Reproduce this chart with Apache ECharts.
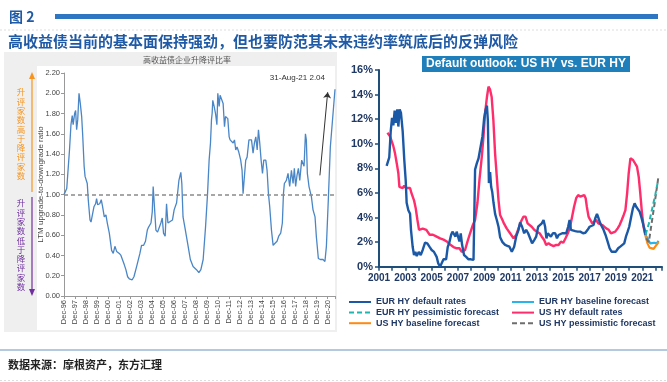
<!DOCTYPE html>
<html><head><meta charset="utf-8">
<script src="https://cdn.jsdelivr.net/npm/echarts@6/dist/echarts.min.js"></script>
<style>html,body{margin:0;padding:0;background:#fff}#c{width:667px;height:382px}</style>
</head><body><div id="c"></div>
<script>
// ---------- Left chart: LTM upgrade-to-downgrade ratio (x = months since Dec-96) ----------
const ltmMonths = [0,3,6,7.6,9,10,11.6,12.7,13.8,15,16.4,17.8,19.3,20.4,22,23,24.3,25.4,26.5,28.4,29.5,32.7,34.5,35.6,36.8,39,40.7,42.2,44,45.8,47.3,49.5,52,53.8,55.6,57.5,60.4,62.2,64,65.8,67.6,69.5,71.3,73,74.5,76.4,79.3,82.9,84.7,87,89,91,92.4,94,95,96.4,97.4,99.3,100.4,102.2,104,105.8,107.3,108.7,110.5,112,113.5,115.6,118.5,120.3,123,125.5,127.6,128.7,130,132,135.6,138,141,144.7,147.3,149.5,152,154.6,156.8,158.5,160,161.1,161.8,162.5,164,165.5,167,168,169.5,170.5,172.4,173.8,175.3,176.4,178.9,180.4,181.4,183.3,184.7,186.2,187.6,189,190.9,193,194.5,195.6,196.7,198.5,200,202,204.8,206.5,208,209.5,211,212.4,213.8,215.3,216.8,218.2,220.4,221.8,223.3,224.7,226.6,228.4,230.5,232.7,234.5,236.7,238.5,239.7,240.7,242.9,244.7,246.5,248.4,250.2,251.6,253,254.5,256,257.5,259.6,261,262.2,263.7,264.7,265.8,267.6,270.2,272,274.2,275.6,277.8,280,282.9,285,286.6,288.7,290.9,296];
const ltmRatio = [1.00,1.06,1.44,1.69,1.78,1.69,1.80,1.83,1.64,1.74,2.00,1.90,1.77,1.59,1.28,1.18,1.19,1.11,0.95,0.75,0.73,0.88,0.91,0.96,0.90,0.91,0.95,0.88,0.78,0.80,0.72,0.62,0.45,0.42,0.49,0.44,0.42,0.40,0.41,0.31,0.26,0.19,0.17,0.16,0.16,0.19,0.29,0.42,0.50,0.50,0.54,0.65,0.68,0.67,0.72,0.83,1.08,1.08,0.65,0.63,0.63,0.72,0.77,0.62,0.59,0.91,0.72,0.73,0.75,0.85,0.92,1.14,1.22,1.11,0.78,0.68,0.49,0.36,0.29,0.26,0.23,0.26,0.36,0.68,1.01,1.34,1.51,1.74,1.80,1.93,1.87,1.80,1.69,2.00,1.87,1.98,1.97,1.90,1.67,1.77,1.75,1.57,1.54,1.55,1.51,1.54,1.44,1.47,1.42,1.34,1.24,1.01,1.14,1.34,1.37,1.54,1.54,1.41,1.51,1.57,1.44,1.64,1.51,1.34,1.21,1.34,1.34,1.24,1.01,0.88,0.65,0.50,0.52,0.54,0.59,0.62,0.72,1.01,1.11,1.14,1.21,1.08,1.24,1.11,1.26,1.08,1.19,1.26,1.14,1.34,1.34,1.28,1.60,1.54,1.21,1.08,0.98,0.85,0.78,0.59,0.37,0.36,0.36,0.34,0.49,0.95,1.47,2.04];
const ltmTickLabels = ['Dec-96','Dec-97','Dec-98','Dec-99','Dec-00','Dec-01','Dec-02','Dec-03','Dec-04','Dec-05','Dec-06','Dec-07','Dec-08','Dec-09','Dec-10','Dec-11','Dec-12','Dec-13','Dec-14','Dec-15','Dec-16','Dec-17','Dec-18','Dec-19','Dec-20'];
const ltmParity = 1.0;
const ltmArrowFrom = [279.5, 1.19];
const ltmArrowTo = [288, 2.01];

// ---------- Right chart: default rates (%) ----------
const eurYears = [2001.58,2001.78,2001.89,2001.99,2002.09,2002.19,2002.29,2002.39,2002.47,2002.57,2002.67,2002.80,2002.92,2003.03,2003.10,2003.23,2003.36,2003.43,2003.56,2003.66,2003.76,2003.87,2004.02,2004.17,2004.32,2004.50,2004.67,2004.83,2005.00,2005.18,2005.38,2005.50,2005.64,2005.77,2005.90,2006.10,2006.22,2006.35,2006.48,2006.58,2006.70,2006.81,2006.90,2007.04,2007.11,2007.21,2007.31,2007.46,2007.62,2007.80,2007.98,2008.18,2008.25,2008.30,2008.43,2008.56,2008.68,2008.76,2008.86,2008.99,2009.10,2009.20,2009.27,2009.35,2009.44,2009.52,2009.60,2009.70,2009.82,2009.95,2010.08,2010.20,2010.38,2010.58,2010.75,2010.91,2011.09,2011.27,2011.42,2011.60,2011.72,2011.87,2012.03,2012.18,2012.33,2012.48,2012.63,2012.79,2012.94,2013.09,2013.24,2013.37,2013.50,2013.62,2013.72,2013.83,2013.95,2014.06,2014.21,2014.39,2014.52,2014.64,2014.77,2014.92,2015.07,2015.22,2015.37,2015.48,2015.58,2015.73,2015.91,2016.09,2016.29,2016.50,2016.68,2016.85,2017.00,2017.15,2017.30,2017.43,2017.56,2017.68,2017.81,2017.94,2018.06,2018.21,2018.37,2018.52,2018.67,2018.82,2019.00,2019.17,2019.33,2019.48,2019.63,2019.76,2019.89,2020.01,2020.16,2020.29,2020.42,2020.54,2020.67,2020.80,2020.92,2021.05,2021.15,2021.25];
const eurRates = [8.2,8.9,11.0,12.1,11.5,12.7,11.7,12.8,11.4,12.8,12.5,11.0,8.7,7.0,5.2,4.6,4.3,3.0,1.6,0.95,1.2,0.87,1.2,0.95,1.36,1.95,1.9,1.63,1.36,1.2,0.8,0.27,0.0,0.0,0.6,0.6,1.6,2.0,2.6,2.85,2.85,2.45,2.85,2.7,2.05,2.7,1.8,0.95,0.8,0.6,0.6,0.55,0.55,7.9,8.4,8.8,8.8,10.0,10.6,12.1,12.75,13.1,11.9,6.8,7.7,6.5,6.1,5.2,4.3,3.8,3.25,2.4,2.0,1.77,1.7,1.63,1.22,1.63,2.44,3.0,3.6,3.25,2.72,3.0,2.72,2.31,1.9,2.17,2.44,3.25,3.25,3.53,3.8,3.25,2.31,2.72,2.72,2.44,2.72,2.72,2.31,2.58,2.58,2.72,2.85,2.72,3.25,3.8,3.0,2.85,2.9,2.85,2.85,2.72,2.76,3.0,3.25,3.39,3.39,3.94,4.29,3.94,3.53,3.25,3.0,2.58,2.04,1.5,1.22,1.14,1.22,1.5,1.63,1.77,1.9,2.44,2.85,3.25,4.07,4.75,5.16,4.88,4.75,4.48,4.07,3.53,3.12,2.58];
const usYears = [2001.64,2001.74,2001.84,2001.97,2002.09,2002.22,2002.35,2002.47,2002.55,2002.67,2002.80,2002.92,2003.05,2003.17,2003.36,2003.46,2003.56,2003.66,2003.79,2003.92,2004.04,2004.17,2004.32,2004.47,2004.60,2004.72,2004.85,2004.98,2005.10,2005.38,2005.64,2005.90,2006.15,2006.40,2006.66,2006.91,2007.11,2007.29,2007.42,2007.54,2007.72,2007.92,2008.13,2008.30,2008.48,2008.63,2008.81,2008.94,2009.06,2009.20,2009.32,2009.44,2009.56,2009.69,2009.82,2009.95,2010.08,2010.20,2010.38,2010.50,2010.71,2010.96,2011.22,2011.42,2011.60,2011.78,2011.97,2012.13,2012.29,2012.44,2012.60,2012.79,2013.00,2013.20,2013.37,2013.55,2013.70,2013.88,2014.06,2014.26,2014.46,2014.64,2014.82,2015.00,2015.17,2015.35,2015.52,2015.67,2015.82,2015.98,2016.13,2016.29,2016.44,2016.59,2016.70,2016.79,2016.92,2017.05,2017.20,2017.35,2017.50,2017.66,2017.81,2017.96,2018.11,2018.26,2018.45,2018.62,2018.77,2018.95,2019.13,2019.28,2019.44,2019.59,2019.72,2019.85,2019.97,2020.10,2020.20,2020.30,2020.45,2020.60,2020.73,2020.85,2020.98,2021.10,2021.23];
const usRates = [10.9,10.8,10.6,10.2,9.8,9.2,8.4,7.6,6.5,6.5,6.4,6.6,6.4,6.5,6.4,6.0,6.0,5.4,4.75,3.8,3.0,3.0,3.1,3.0,3.0,2.8,2.6,2.7,2.6,2.45,2.3,2.2,2.05,1.8,1.6,1.5,1.5,1.2,1.1,1.36,2.04,2.72,3.4,3.8,5.2,7.05,8.95,10.6,12.5,13.8,14.65,14.4,13.8,11.9,9.2,7.3,5.4,4.2,3.8,3.5,3.1,2.72,2.31,2.58,3.12,3.66,4.07,4.07,3.53,3.39,3.25,3.0,2.85,2.72,2.44,2.17,1.77,1.9,1.77,1.68,1.77,1.77,2.04,1.95,2.31,2.72,3.25,4.07,4.88,5.57,5.83,5.7,5.83,5.83,5.57,4.88,4.07,3.8,3.53,3.66,3.8,3.53,3.66,3.39,3.25,3.12,3.0,2.72,2.76,2.85,3.12,3.39,3.8,4.21,4.61,5.97,7.6,8.82,8.95,8.68,8.54,8.14,7.32,5.97,4.34,3.25,2.58];
const eurBaseYears = [2021.25,2021.45,2021.6,2021.74,2021.91,2022.1,2022.24];
const eurBaseRates = [2.58,2.2,1.9,1.77,1.95,1.9,2.1];
const eurPessYears = [2021.25,2021.5,2021.75,2022.0,2022.2];
const eurPessRates = [2.6,3.5,4.7,5.9,7.0];
const usBaseYears = [2021.23,2021.4,2021.55,2021.7,2021.86,2022.0,2022.24];
const usBaseRates = [2.58,1.9,1.55,1.45,1.45,1.6,2.0];
const usPessYears = [2021.3,2021.5,2021.75,2022.0,2022.24];
const usPessRates = [2.3,2.0,3.8,5.6,7.4];
const yearTickLabels = ['2001','2003','2005','2007','2009','2011','2013','2015','2017','2019','2021'];
const pctTicks = [0,2,4,6,8,10,12,14,16];

const BASE = 2001;
const pair = (xs, ys) => xs.map((x, i) => [x - BASE, ys[i]]);
const CJK = '"Noto Sans CJK SC", sans-serif';
const NARROW = '"Liberation Sans Narrow","Liberation Sans",sans-serif';
const ARIAL = '"Liberation Sans", Arial, sans-serif';
const navy = '#1f3864';
const axisBlue = '#1f4e79';

const chart = echarts.init(document.getElementById('c'), null, {renderer: 'canvas'});

function vtext(s) { return s.split('').join('\n'); }

const legendCommon = {orient: 'vertical', itemWidth: 22, itemHeight: 9, itemGap: 1.6, padding: 0,
  itemStyle: {opacity: 0},
  textStyle: {fontSize: 9, fontWeight: 'bold', color: navy, fontFamily: ARIAL}};

const option = {
  animation: false,
  backgroundColor: '#ffffff',
  textStyle: {fontFamily: ARIAL},
  grid: [
    {left: 64, top: 73, width: 271, height: 223},
    {left: 379, top: 70, width: 283, height: 196.7}
  ],
  xAxis: [
    {gridIndex: 0, type: 'value', min: 0, max: 296, interval: 12,
     axisLine: {show: true, lineStyle: {color: '#999', width: 1}},
     axisTick: {show: true, length: 3, lineStyle: {color: '#999'}},
     splitLine: {show: false},
     axisLabel: {rotate: 90, fontSize: 7.5, color: '#444', margin: 4, fontFamily: ARIAL,
       formatter: v => (v % 12 === 0 && ltmTickLabels[v / 12]) ? ltmTickLabels[v / 12] : ''}},
    {gridIndex: 1, type: 'value', min: 0, max: 21.5, interval: 1,
     axisLine: {show: true, lineStyle: {color: axisBlue, width: 2}},
     axisTick: {show: true, length: 4, lineStyle: {color: axisBlue, width: 1.5}},
     splitLine: {show: false},
     axisLabel: {fontSize: 10, fontWeight: 'bold', color: navy, margin: 7, fontFamily: ARIAL,
       formatter: v => (v % 2 === 0 && yearTickLabels[v / 2]) ? yearTickLabels[v / 2] : ''}}
  ],
  yAxis: [
    {gridIndex: 0, type: 'value', min: 0, max: 2.2, interval: 0.2,
     name: 'LTM upgrade-to-downgrade ratio', nameLocation: 'middle', nameGap: 19, nameRotate: 90,
     nameMoveOverlap: false,
     nameTextStyle: {fontSize: 8, color: '#444', fontFamily: ARIAL},
     axisLine: {show: true, lineStyle: {color: '#999', width: 1}},
     axisTick: {show: true, length: 3, lineStyle: {color: '#999'}},
     splitLine: {show: false},
     axisLabel: {fontSize: 7.5, color: '#444', margin: 4, fontFamily: NARROW, formatter: v => v.toFixed(2)}},
    {gridIndex: 1, type: 'value', min: 0, max: 16, interval: 2,
     axisLine: {show: true, lineStyle: {color: axisBlue, width: 2}},
     axisTick: {show: true, length: 4, lineStyle: {color: axisBlue, width: 1.5}},
     splitLine: {show: false},
     axisLabel: {fontSize: 11, fontWeight: 'bold', color: navy, margin: 6, fontFamily: ARIAL,
       formatter: v => pctTicks.indexOf(v) >= 0 ? v + '%' : ''}}
  ],
  legend: [
    Object.assign({left: 348, top: 297.5,
     data: ['EUR HY default rates', 'EUR HY pessimistic forecast', 'US HY baseline forecast']}, legendCommon),
    Object.assign({left: 511, top: 297.5,
     data: ['EUR HY baseline forecast', 'US HY default rates', 'US HY pessimistic forecast']}, legendCommon)
  ],
  series: [
    {type: 'line', xAxisIndex: 0, yAxisIndex: 0, name: 'LTM ratio', symbol: 'none',
     data: ltmMonths.map((m, i) => [m, ltmRatio[i]]),
     lineStyle: {color: '#4a86c6', width: 1.3}, itemStyle: {color: '#4a86c6'},
     markLine: {silent: true, symbol: 'none', label: {show: false}, animation: false,
       data: [
         {yAxis: ltmParity, lineStyle: {color: '#8a8a8a', type: [4, 3], width: 1.5}},
         [{coord: ltmArrowFrom, symbol: 'none', lineStyle: {color: '#333', type: 'solid', width: 1}},
          {coord: ltmArrowTo, symbol: 'arrow', symbolSize: 6}]
       ]}},
    {type: 'line', xAxisIndex: 1, yAxisIndex: 1, name: 'US HY default rates', symbol: 'none',
     data: pair(usYears, usRates), lineStyle: {color: '#ff2d6b', width: 2.4}, itemStyle: {color: '#ff2d6b'}},
    {type: 'line', xAxisIndex: 1, yAxisIndex: 1, name: 'EUR HY default rates', symbol: 'none',
     data: pair(eurYears, eurRates), lineStyle: {color: '#1b59a6', width: 2.4}, itemStyle: {color: '#1b59a6'}},
    {type: 'line', xAxisIndex: 1, yAxisIndex: 1, name: 'EUR HY baseline forecast', symbol: 'none',
     data: pair(eurBaseYears, eurBaseRates), lineStyle: {color: '#2ab4ec', width: 2.2}, itemStyle: {color: '#2ab4ec'}},
    {type: 'line', xAxisIndex: 1, yAxisIndex: 1, name: 'US HY baseline forecast', symbol: 'none',
     data: pair(usBaseYears, usBaseRates), lineStyle: {color: '#ff8a10', width: 2.2}, itemStyle: {color: '#ff8a10'}},
    {type: 'line', xAxisIndex: 1, yAxisIndex: 1, name: 'US HY pessimistic forecast', symbol: 'none',
     data: pair(usPessYears, usPessRates), lineStyle: {color: '#6e6e6e', width: 2, type: [5, 3]}, itemStyle: {color: '#6e6e6e'}},
    {type: 'line', xAxisIndex: 1, yAxisIndex: 1, name: 'EUR HY pessimistic forecast', symbol: 'none',
     data: pair(eurPessYears, eurPessRates), lineStyle: {color: '#1fb6b0', width: 2, type: [5, 3]}, itemStyle: {color: '#1fb6b0'}}
  ],
  graphic: [
    {type: 'rect', z: -10, shape: {x: 4, y: 52, width: 333, height: 280}, style: {fill: '#efefef'}, silent: true},
    {type: 'rect', z: -9, shape: {x: 37, y: 66, width: 298, height: 264}, style: {fill: '#ffffff'}, silent: true},
    {type: 'text', x: 9, y: 10, style: {text: '图 2', font: 'bold 14px ' + CJK, fill: '#1f5aa6'}},
    {type: 'rect', shape: {x: 55, y: 14, width: 603, height: 5}, style: {fill: '#2e75c2'}, silent: true},
    {type: 'line', shape: {x1: 0, y1: 30, x2: 667, y2: 30}, style: {stroke: '#dddddd', lineWidth: 1, lineDash: [2, 2]}},
    {type: 'text', x: 8, y: 34, style: {text: '高收益债当前的基本面保持强劲，但也要防范其未来违约率筑底后的反弹风险', font: 'bold 15px ' + CJK, fill: '#1f5aa6'}},
    {type: 'text', x: 187, y: 60, style: {text: '高收益债企业升降评比率', font: '8px ' + CJK, fill: '#555', align: 'center', verticalAlign: 'middle'}},
    {type: 'line', shape: {x1: 32, y1: 192, x2: 32, y2: 77}, style: {stroke: '#f7941d', lineWidth: 1.2}},
    {type: 'polygon', shape: {points: [[29, 79], [35, 79], [32, 72]]}, style: {fill: '#f7941d'}},
    {type: 'text', x: 21, y: 134, style: {text: vtext('升评家数高于降评家数'), font: '8.5px ' + CJK, lineHeight: 9.3, fill: '#f7941d', align: 'center', verticalAlign: 'middle'}},
    {type: 'line', shape: {x1: 32, y1: 197, x2: 32, y2: 291}, style: {stroke: '#7030a0', lineWidth: 1.2}},
    {type: 'polygon', shape: {points: [[29, 289], [35, 289], [32, 296]]}, style: {fill: '#7030a0'}},
    {type: 'text', x: 21, y: 245, style: {text: vtext('升评家数低于降评家数'), font: '8.5px ' + CJK, lineHeight: 9.3, fill: '#7030a0', align: 'center', verticalAlign: 'middle'}},
    {type: 'text', x: 325, y: 78, style: {text: '31-Aug-21 2.04', font: '8px ' + NARROW, fill: '#333', align: 'right', verticalAlign: 'middle'}},
    {type: 'rect', shape: {x: 422, y: 56, width: 208, height: 16}, style: {fill: '#1e7fba'}},
    {type: 'text', x: 526, y: 64, style: {text: 'Default outlook: US HY vs. EUR HY', font: 'bold 12px ' + ARIAL, fill: '#ffffff', align: 'center', verticalAlign: 'middle'}},
    {type: 'line', shape: {x1: 0, y1: 350, x2: 667, y2: 350}, style: {stroke: '#b4c9e0', lineWidth: 2}},
    {type: 'text', x: 8, y: 359, style: {text: '数据来源：摩根资产，东方汇理', font: 'bold 11px ' + CJK, fill: '#222'}},
    {type: 'line', shape: {x1: 0, y1: 380.5, x2: 667, y2: 380.5}, style: {stroke: '#dddddd', lineWidth: 1, lineDash: [2, 2]}}
  ]
};
chart.setOption(option);
</script></body></html>
